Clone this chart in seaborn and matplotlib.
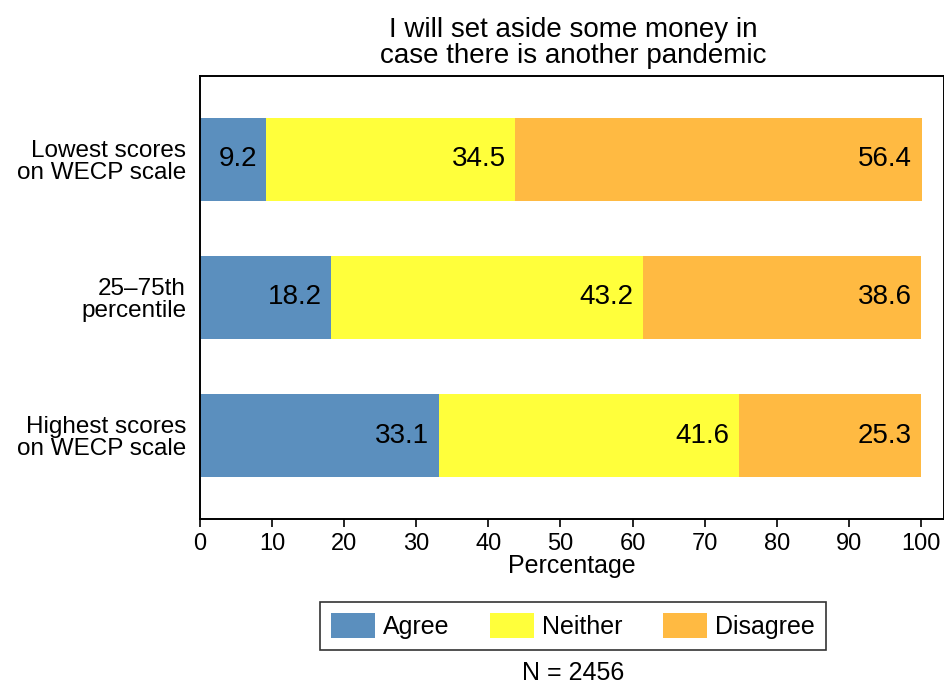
import matplotlib
matplotlib.use("Agg")
import matplotlib.pyplot as plt
import seaborn as sns
import pandas as pd
import numpy as np
from matplotlib.patches import Patch

categories = ["Lowest scores\non WECP scale", "25\u201375th\npercentile", "Highest scores\non WECP scale"]
agree = [9.2, 18.2, 33.1]
neither = [34.5, 43.2, 41.6]
disagree = [56.4, 38.6, 25.3]
series_names = ["Agree", "Neither", "Disagree"]
colors = ["#5B8FBE", "#FFFF3B", "#FFBA42"]
title = "I will set aside some money in\ncase there is another pandemic"
note = "N = 2456"

sns.set_theme(style="white")
plt.rcParams["font.family"] = ["Liberation Sans", "DejaVu Sans"]
plt.rcParams["text.color"] = "black"
plt.rcParams["xtick.color"] = "black"
plt.rcParams["ytick.color"] = "black"
plt.rcParams["axes.labelcolor"] = "black"

fig = plt.figure(figsize=(9.45, 6.86), dpi=100)
ax = fig.add_axes([200/945, 1-519/686, (944-200)/945, (519-76)/686])

df = pd.DataFrame({"cat": categories, "Agree": agree, "Neither": neither, "Disagree": disagree})
df["c1"] = df["Agree"]
df["c2"] = df["Agree"] + df["Neither"]
df["c3"] = df["Agree"] + df["Neither"] + df["Disagree"]

for col, c in [("c3", colors[2]), ("c2", colors[1]), ("c1", colors[0])]:
    sns.barplot(data=df, x=col, y="cat", color=c, width=0.6, saturation=1,
                orient="h", ax=ax, edgecolor="none", linewidth=0)

# value labels at right end of each segment
for i in range(len(categories)):
    ends = [df["c1"][i], df["c2"][i], df["c3"][i]]
    vals = [agree[i], neither[i], disagree[i]]
    for e, v in zip(ends, vals):
        ax.text(e - 1.3, i, f"{v:.1f}", ha="right", va="center", fontsize=20, color="black")

ax.set_xlim(0, 103.2)
ax.set_ylim(2.6, -0.6)
ax.set_xticks(np.arange(0, 101, 10))
ax.tick_params(axis="x", direction="out", length=6, width=1.2, color="black", labelsize=17, pad=4, bottom=True)
ax.tick_params(axis="y", length=0, labelsize=17.5, pad=10)
for lab in ax.get_yticklabels():
    lab.set_multialignment("right")
    lab.set_linespacing(1.0)
ax.set_xlabel("Percentage", fontsize=18, labelpad=-1)
ax.set_ylabel("")
for s in ax.spines.values():
    s.set_color("black")
    s.set_linewidth(1.4)

fig.text(573/945, 1-43/686, title, ha="center", va="center", fontsize=20, linespacing=0.98)

handles = [Patch(facecolor=c, edgecolor="none") for c in colors]
leg = fig.legend(handles, series_names, loc="center", bbox_to_anchor=(573/945, 1-626/686),
                 ncol=3, fontsize=18, frameon=True, fancybox=False, edgecolor="black",
                 handlelength=1.75, handleheight=1.15, columnspacing=1.6, handletextpad=0.35,
                 borderpad=0.45, borderaxespad=0)
leg.get_frame().set_linewidth(1.2)

fig.text(573/945, 1-673/686, note, ha="center", va="center", fontsize=18)

fig.savefig("out.png", dpi=100, facecolor="white")
